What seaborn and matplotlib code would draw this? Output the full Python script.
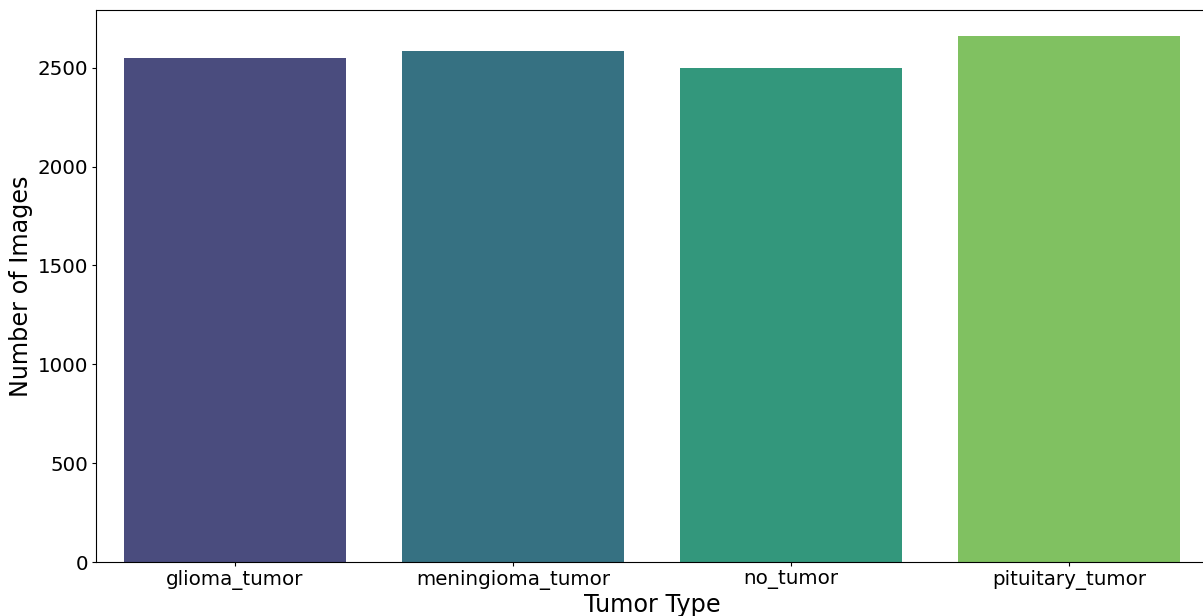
import matplotlib
matplotlib.use("Agg")
import matplotlib.pyplot as plt
import seaborn as sns
import pandas as pd

categories = ["glioma_tumor", "meningioma_tumor", "no_tumor", "pituitary_tumor"]
counts = [2547, 2582, 2500, 2658]

df = pd.DataFrame({"Tumor Type": categories, "Number of Images": counts})

fig = plt.figure(figsize=(12.03, 6.16), dpi=100)
ax = fig.add_axes([96 / 1203, 53.7 / 616, 1112 / 1203, (562.3 - 10) / 616])
sns.barplot(data=df, x="Tumor Type", y="Number of Images", hue="Tumor Type",
            palette="viridis", legend=False, ax=ax)
ax.set_xlabel("Tumor Type", fontsize=17.2, labelpad=2)
ax.set_ylabel("Number of Images", fontsize=17.2, labelpad=3)
ax.tick_params(axis="both", labelsize=14.3, length=3.2, pad=2.5)
fig.savefig("out.png", dpi=100)
